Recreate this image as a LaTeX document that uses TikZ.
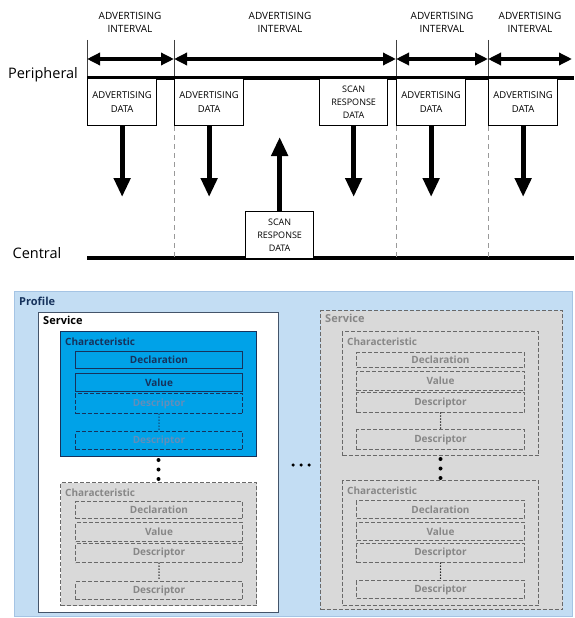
\documentclass[tikz,border=0pt]{standalone}
\usepackage{fontspec}
\setmainfont{Open Sans}
\usetikzlibrary{arrows.meta,positioning}

\definecolor{profblue}{RGB}{195,221,243}
\definecolor{profline}{RGB}{165,196,228}
\definecolor{svcline}{RGB}{68,84,106}
\definecolor{charblue}{RGB}{0,162,232}
\definecolor{navy}{RGB}{22,50,92}
\definecolor{fadeblue}{RGB}{98,142,186}
\definecolor{ghostfill}{RGB}{217,217,217}
\definecolor{ghostline}{RGB}{105,105,105}
\definecolor{ghosttext}{RGB}{135,135,135}

\tikzset{
  every node/.style={inner sep=0pt},
  ivlabel/.style={align=center, font=\fontsize{10}{13}\selectfont},
  ivl/.style={{Triangle[width=12pt,length=13pt]}-{Triangle[width=12pt,length=13pt]}, line width=3.5pt},
  tickline/.style={line width=0.8pt, draw=black!75},
  slotline/.style={line width=0.8pt, draw=black!40, dash pattern=on 5pt off 4pt},
  packet/.style={draw, line width=1.3pt, fill=white, anchor=north west, minimum width=69pt, minimum height=47pt, align=center, font=\fontsize{9.5}{13.5}\selectfont},
  send/.style={-{Triangle[width=16pt,length=19pt]}, line width=5pt},
  role/.style={font=\fontsize{14.5}{16}\selectfont},
  % GATT part
  title/.style={font=\bfseries\fontsize{11}{13}\selectfont},
  profilebox/.style={draw=profline, fill=profblue, line width=0.8pt, anchor=north west},
  svcbox/.style={draw=svcline, fill=white, line width=1.2pt, anchor=north west, minimum width=240pt, minimum height=300pt},
  charbox/.style={draw=navy, fill=charblue, line width=1pt, anchor=north west, minimum width=196pt},
  fieldbox/.style={draw=navy, line width=1pt, anchor=north west, minimum width=167pt, text=navy, font=\bfseries\fontsize{10}{12}\selectfont},
  optbox/.style={fieldbox, dash pattern=on 4pt off 2pt, text=fadeblue},
  ghostsvc/.style={draw=ghostline, fill=ghostfill, line width=1.2pt, dash pattern=on 4pt off 2pt, anchor=north west, minimum width=242pt, minimum height=299pt},
  ghostchar/.style={draw=ghostline, fill=ghostfill, line width=1pt, dash pattern=on 4pt off 2pt, anchor=north west, minimum width=196pt},
  ghostfield/.style={draw=ghostline, line width=1pt, dash pattern=on 4pt off 2pt, anchor=north west, minimum width=168pt, text=ghosttext, font=\bfseries\fontsize{10}{12}\selectfont},
  morelink/.style={line width=4pt, line cap=round, dash pattern=on 0pt off 9.5pt, dash phase=6.5pt},
  desclink/.style={line width=1.5pt, line cap=round, dash pattern=on 0pt off 3pt},
}

\begin{document}
\begin{tikzpicture}[x=1pt, y=-1pt]
\useasboundingbox (0,0) rectangle (574,618);

% advertising timeline
\coordinate (k0) at (87,40);
\coordinate (k1) at (174,40);
\coordinate (k2) at (396,40);
\coordinate (k3) at (488,40);
\coordinate (k4) at (572,59);
\coordinate (ia) at (0,59);
\coordinate (pl) at (87,78);
\coordinate (pr) at (574,78);
\coordinate (cl) at (87,258);
\coordinate (cr) at (574,258);
\coordinate (dn) at (0,197);
\coordinate (up) at (0,137);

\node[ivlabel] (il1) at (130,22) {ADVERTISING\\INTERVAL};
\node[ivlabel] (il2) at (280,22) {ADVERTISING\\INTERVAL};
\node[ivlabel] (il3) at (442,22) {ADVERTISING\\INTERVAL};
\node[ivlabel] (il4) at (530,22) {ADVERTISING\\INTERVAL};

\draw[tickline] (k0) -- (k0 |- pl);
\draw[tickline] (k1) -- (k1 |- pl);
\draw[tickline] (k2) -- (k2 |- pl);
\draw[tickline] (k3) -- (k3 |- pl);

\draw[ivl] (k0 |- ia) -- (k1 |- ia);
\draw[ivl] (k1 |- ia) -- (k2 |- ia);
\draw[ivl] (k2 |- ia) -- (k3 |- ia);
\draw[ivl] (k3 |- ia) -- (k4);

\node[role] (peri) at (43,75) {Peripheral};
\node[role] (cent) at (37,253) {Central};
\draw[line width=3.5pt] (pl) -- (pr);
\draw[line width=3.5pt] (cl) -- (cr);

\node[packet] (p1) at (87,78) {ADVERTISING\\DATA};
\node[packet] (p2) at (174,78) {ADVERTISING\\DATA};
\node[packet, minimum width=68pt, font=\fontsize{9}{13}\selectfont] (p3) at (319,78) {SCAN\\RESPONSE\\DATA};
\node[packet] (p4) at (396,78) {ADVERTISING\\DATA};
\node[packet] (p5) at (488,78) {ADVERTISING\\DATA};
\node[packet, minimum width=68pt, font=\fontsize{9}{13}\selectfont] (c1) at (245,211) {SCAN\\RESPONSE\\DATA};

\draw[slotline] (p2.south west) -- (p2.south west |- cl);
\draw[slotline] (p4.south west) -- (p4.south west |- cl);
\draw[slotline] (p5.south west) -- (p5.south west |- cl);

\draw[send] (p1.south) -- (p1.south |- dn);
\draw[send] (p2.south) -- (p2.south |- dn);
\draw[send] (p3.south) -- (p3.south |- dn);
\draw[send] (p4.south) -- (p4.south |- dn);
\draw[send] (p5.south) -- (p5.south |- dn);
\draw[send] (c1.north) -- (c1.north |- up);

% GATT hierarchy
\node[profilebox, minimum width=558pt, minimum height=325pt] (profile) at (14,291) {};
\node[title, text=navy, below right=6pt and 5pt of profile.north west] (profilelbl) {Profile};

\node[svcbox] (svc1) at (38,312) {};
\node[title, below right=4pt and 5pt of svc1.north west] (svc1lbl) {Service};

\node[charbox, minimum height=125pt] (ch1) at (60,331) {};
\node[title, text=navy, font=\bfseries\fontsize{10}{12}\selectfont, below right=7pt and 5pt of ch1.north west] (ch1lbl) {Characteristic};
\node[fieldbox, minimum height=17pt] (d1) at (75,351) {Declaration};
\node[fieldbox, minimum height=18pt] (v1) at (75,373) {Value};
\node[optbox, minimum height=20pt] (s1a) at (75,393) {Descriptor};
\node[optbox, minimum height=18pt] (s1b) at (75,431) {Descriptor};
\draw[desclink, draw=navy] (s1a.south) -- (s1b.north);

\node[ghostchar, minimum height=123pt] (ch2) at (60,482) {};
\node[title, text=ghosttext, font=\bfseries\fontsize{10}{12}\selectfont, below right=7pt and 5pt of ch2.north west] (ch2lbl) {Characteristic};
\node[ghostfield, minimum width=167pt, minimum height=17pt] (d2) at (75,501) {Declaration};
\node[ghostfield, minimum width=167pt, minimum height=19pt] (v2) at (75,522) {Value};
\node[ghostfield, minimum width=167pt, minimum height=19pt] (s2a) at (75,543) {Descriptor};
\node[ghostfield, minimum width=167pt, minimum height=18pt] (s2b) at (75,581) {Descriptor};
\draw[desclink] (s2a.south) -- (s2b.north);

\draw[morelink] (ch1.south) -- (ch2.north);

\node[ghostsvc] (svc2) at (320,310) {};
\node[title, text=ghosttext, below right=4pt and 5pt of svc2.north west] (svc2lbl) {Service};

\node[ghostchar, minimum height=124pt] (chA) at (342,331) {};
\node[title, text=ghosttext, font=\bfseries\fontsize{10}{12}\selectfont, below right=7pt and 5pt of chA.north west] (chAlbl) {Characteristic};
\node[ghostfield, minimum height=15pt] (dA) at (356,352) {Declaration};
\node[ghostfield, minimum height=19pt] (vA) at (356,371) {Value};
\node[ghostfield, minimum height=20pt] (sA1) at (356,392) {Descriptor};
\node[ghostfield, minimum height=20pt] (sA2) at (356,429) {Descriptor};
\draw[desclink] (sA1.south) -- (sA2.north);

\node[ghostchar, minimum height=125pt] (chB) at (342,480) {};
\node[title, text=ghosttext, font=\bfseries\fontsize{10}{12}\selectfont, below right=7pt and 5pt of chB.north west] (chBlbl) {Characteristic};
\node[ghostfield, minimum height=18pt] (dB) at (356,500) {Declaration};
\node[ghostfield, minimum height=18pt] (vB) at (356,522) {Value};
\node[ghostfield, minimum height=19pt] (sB1) at (356,543) {Descriptor};
\node[ghostfield, minimum height=18pt] (sB2) at (356,580) {Descriptor};
\draw[desclink] (sB1.south) -- (sB2.north);

\draw[morelink] (chA.south) -- (chB.north);

\coordinate (hd) at (0,465);
\draw[line width=3.5pt, line cap=round, dash pattern=on 0pt off 8pt, shorten <=14pt, shorten >=10pt] (svc1.east |- hd) -- (svc2.west |- hd);
\end{tikzpicture}
\end{document}
